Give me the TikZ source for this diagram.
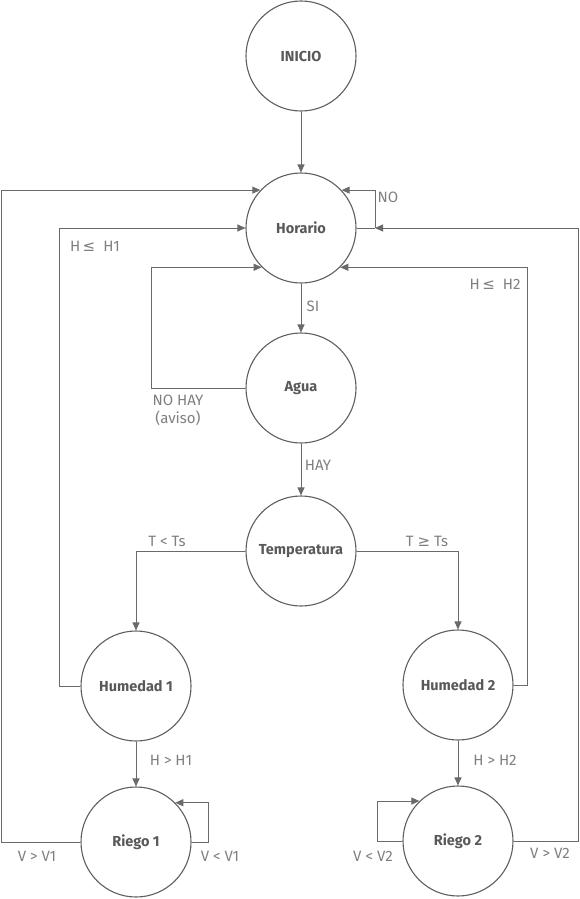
\documentclass[tikz,border=0pt]{standalone}
\usepackage{fontspec}
\setmainfont{Fira Sans}
\newfontfamily\symf{DejaVu Sans}
\usetikzlibrary{arrows.meta}
\definecolor{cstroke}{HTML}{5F5F5F}
\definecolor{ctext}{HTML}{595959}
\definecolor{clab}{HTML}{7F7F7F}
\definecolor{cline}{HTML}{6A6A6A}
\begin{document}
\begin{tikzpicture}[x=1pt,y=-1pt,
  state/.style={circle,draw=cstroke,line width=1.1pt,minimum size=110pt,inner sep=0pt,
    text=ctext,font=\fontsize{14.5}{16}\selectfont\bfseries},
  lab/.style={text=clab,font=\fontsize{15}{17}\selectfont,inner sep=0pt},
  arr/.style={draw=cline,line width=1pt,-{Triangle[length=8pt,width=7pt]}},
  ln/.style={draw=cline,line width=1pt}]
\useasboundingbox (0,0) rectangle (580,899);
\node[state] (ini) at (301,56) {INICIO};
\node[state] (hor) at (301,228) {Horario};
\node[state] (agua) at (301,388) {Agua};
\node[state] (temp) at (301,551) {Temperatura};
\node[state] (hum1) at (136,686) {Humedad 1};
\node[state] (rie1) at (136,842) {Riego 1};
\node[state] (hum2) at (458,685) {Humedad 2};
\node[state] (rie2) at (458,841) {Riego 2};
\coordinate (noc) at (375,228);
% main flow
\draw[arr] (ini) -- (hor);
\draw[arr] (hor) -- (agua);
\draw[arr] (agua) -- (temp);
\draw[arr] (temp.west) -| (hum1.north);
\draw[arr] (temp.east) -| (hum2.north);
\draw[arr] (hum1) -- (rie1);
\draw[arr] (hum2) -- (rie2);
% NO self loop
\draw[ln] (hor.east) -- (noc);
\draw[arr] (noc) |- (hor.43.7);
% returns
\draw[arr] (rie1.west) -- ++(-79,0) |- (hor.137.7);
\draw[arr] (hum1.west) -- ++(-21,0) |- (hor.west);
\draw[arr] (agua.west) -- ++(-94,0) |- (hor.225.2);
\draw[arr] (hum2.east) -- ++(14,0) |- (hor.-45.2);
\draw[arr] (rie2.east) -- ++(65,0) |- (noc);
% riego self loops
\draw[arr] (rie1.east) -- ++(17,0) |- (rie1.45.2);
\draw[arr] (rie2.west) -- ++(-25,0) |- (rie2.134.8);
% labels
\node[lab] (lno) at (388,197) {NO};
\node[lab] (lsi) at (313,306) {SI};
\node[lab] (lh1) at (95,246) {H\,{\symf ≤}\ \ H1};
\node[lab] (lh2) at (495,284) {H\,{\symf ≤}\ \ H2};
\node[lab] (lnohay) at (178,400) {NO HAY};
\node[lab] (laviso) at (178,418) {(aviso)};
\node[lab] (lhay) at (318,465) {HAY};
\node[lab] (ltl) at (167,541) {T < Ts};
\node[lab] (ltg) at (427,541) {T {\symf ≥}\ Ts};
\node[lab] (lhh1) at (171,760) {H > H1};
\node[lab] (lhh2) at (495,760) {H > H2};
\node[lab] (lvg1) at (37,856) {V > V1};
\node[lab] (lvl1) at (220,856) {V < V1};
\node[lab] (lvl2) at (373,856) {V < V2};
\node[lab] (lvg2) at (550,853) {V > V2};
\end{tikzpicture}
\end{document}
